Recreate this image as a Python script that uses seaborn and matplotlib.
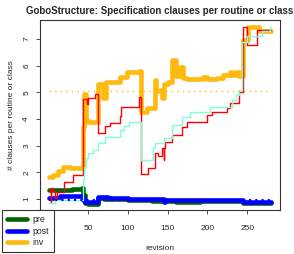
import numpy as np
import pandas as pd
import matplotlib
matplotlib.use("Agg")
import matplotlib.pyplot as plt
from matplotlib.lines import Line2D
import seaborn as sns

# breakpoints (revision, value), drawn as steps
LAST_REV = 280

pre_rev = [1, 30, 43, 44, 46, 50, 62, 70, 100, 130, 160, 190, 215, 245]
pre_val = [1.35, 1.37, 1.4, 1.15, 0.85, 0.8, 1.03, 1.0, 0.96, 0.93, 0.9, 0.94, 0.92, 0.86]

post_rev = [1, 15, 44, 46, 62, 75, 100, 140, 146, 147, 190, 244]
post_val = [1.05, 1.1, 0.95, 0.9, 1.07, 1.04, 1.02, 0.99, 0.88, 0.98, 0.97, 0.89]

inv_rev = [1, 6, 12, 19, 27, 44, 45, 47, 50, 62, 69, 73, 90, 99, 114,
           116, 124, 134, 136, 141, 143, 146, 150, 155, 160, 166, 169, 174,
           194, 199, 212, 219, 228, 231, 236, 240, 244, 251, 265]
inv_val = [1.82, 1.9, 2.07, 2.22, 2.17, 3.7, 4.93, 3.95, 3.9, 5.33, 4.8, 5.39, 5.58, 5.77, 5.8,
           4.25, 4.4, 5.46, 5.05, 5.1, 4.78, 5.3, 5.4, 6.22, 5.6, 5.95, 5.55, 5.5,
           5.58, 5.5, 5.55, 5.65, 5.75, 5.65, 5.78, 5.62, 6.97, 7.43, 7.3]

red_rev = [1, 3, 4, 6, 9, 11, 20, 31, 44, 49, 50, 59, 63, 71, 78, 90, 92, 114,
           116, 125, 134, 138, 143, 145, 146, 147, 156, 168, 174, 200, 206, 224,
           228, 240, 244, 250, 262]
red_val = [1.35, 0.9, 1.4, 1.3, 1.05, 1.27, 1.65, 1.92, 4.75, 4.55, 4.8, 4.92, 3.47, 3.72, 3.85, 4.1, 4.45, 4.82,
           1.94, 2.15, 2.73, 2.6, 2.9, 2.46, 2.9, 3.15, 3.4, 3.7, 3.9, 4.15, 4.27, 4.4,
           4.6, 5.0, 7.43, 6.77, 7.33]

aqua_rev = [1, 9, 44, 45, 47, 50, 56, 62, 71, 90, 95, 102, 116, 131, 134, 146,
            155, 168, 178, 203, 231, 236, 240, 243, 249, 269, 278]
aqua_val = [0.85, 0.96, 1.7, 2.2, 2.54, 2.72, 2.85, 3.1, 3.33, 3.6, 3.75, 3.88, 2.46, 2.95, 3.1, 3.28,
            3.77, 4.08, 4.27, 4.45, 4.7, 4.9, 5.1, 6.9, 7.1, 7.3, 7.45]

inv_mean = 5.05
post_mean = 0.96

x_ticks = [50, 100, 150, 200, 250]  # the 0 tick sits under the legend
y_ticks = [1, 2, 3, 4, 5, 6, 7]

C_PRE, C_POST, C_INV = "#006400", "#0000FF", "#FFB90F"
C_RED, C_AQUA = "#FF0000", "#7FFFD4"


def steps(rev, val):
    return pd.DataFrame({"revision": rev + [LAST_REV], "value": val + [val[-1]]})


sns.set_style("white")
plt.rcParams["font.family"] = ["Liberation Sans", "DejaVu Sans"]

fig = plt.figure(figsize=(2.94, 2.54), dpi=100)
ax = fig.add_axes([40 / 294, 1 - 210 / 254, 240 / 294, 190 / 254])

for rev, val, col, lw in [(pre_rev, pre_val, C_PRE, 3.3),
                          (post_rev, post_val, C_POST, 3.3),
                          (inv_rev, inv_val, C_INV, 3.3),
                          (red_rev, red_val, C_RED, 1.0),
                          (aqua_rev, aqua_val, C_AQUA, 1.0)]:
    sns.lineplot(data=steps(rev, val), x="revision", y="value", color=col,
                 linewidth=lw, drawstyle="steps-post", ax=ax, legend=False)

ax.hlines(inv_mean, 1, LAST_REV, colors=C_INV, linestyles=(0, (1, 3)), linewidth=1)
ax.hlines(post_mean, 1, LAST_REV, colors=C_POST, linestyles=(0, (1, 2)), linewidth=1.5)

ax.set_xlim(-10.2, 291)
ax.set_ylim(0.59, 7.71)
ax.set_xticks(x_ticks)
ax.set_yticks(y_ticks)
ax.tick_params(axis="both", direction="out", length=3, width=0.6, color="#333333",
               labelsize=6, left=True, bottom=True)
ax.tick_params(axis="x", pad=8)
ax.tick_params(axis="y", pad=4)
for lab in ax.get_yticklabels():
    lab.set_rotation(90)
    lab.set_va("center")
for sp in ax.spines.values():
    sp.set_color("#333333")
    sp.set_linewidth(0.8)

ax.set_title("GoboStructure: Specification clauses per routine or class",
             fontsize=7.0, fontweight="bold", pad=4)
ax.set_xlabel("revision", fontsize=6)
ax.set_ylabel("# clauses per routine or class", fontsize=6)
ax.xaxis.set_label_coords(0.5, -0.185)
ax.yaxis.set_label_coords(-0.104, 0.5)

handles = [Line2D([], [], color=C_PRE, lw=3.3),
           Line2D([], [], color=C_POST, lw=3.3),
           Line2D([], [], color=C_INV, lw=3.3)]
leg = ax.legend(handles, ["pre", "post", "inv"], loc="lower left",
                bbox_to_anchor=(2 / 294, 2 / 254), bbox_transform=fig.transFigure,
                fontsize=6.3, frameon=True, fancybox=False, framealpha=1,
                edgecolor="#333333", handlelength=2.3, handletextpad=0.6,
                labelspacing=0.3, borderpad=0.55, borderaxespad=0)
leg.get_frame().set_linewidth(0.8)

fig.savefig("out.png", dpi=100)
